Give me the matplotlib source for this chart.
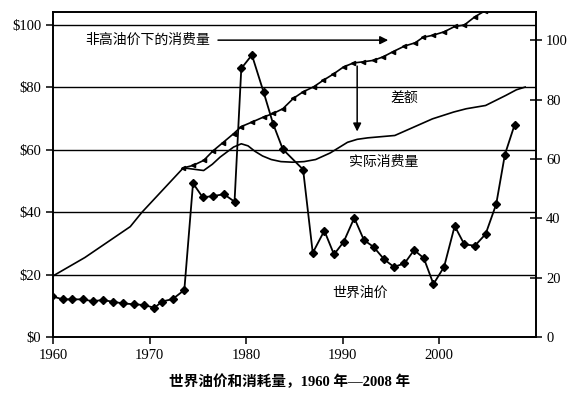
import matplotlib
matplotlib.use("Agg")
import matplotlib.pyplot as plt

plt.rcParams['font.family'] = ['Liberation Serif', 'Noto Sans CJK SC']

# 世界油价（左轴，美元）
price_years = [1959.9, 1961.0, 1962.0, 1963.1, 1964.1, 1965.2, 1966.2, 1967.3, 1968.4,
               1969.4, 1970.5, 1971.3, 1972.4, 1973.6, 1974.5, 1975.5, 1976.6, 1977.7,
               1978.8, 1979.5, 1980.6, 1981.8, 1982.8, 1983.8, 1985.9, 1986.9, 1988.1,
               1989.1, 1990.1, 1991.2, 1992.2, 1993.2, 1994.3, 1995.3, 1996.4, 1997.4,
               1998.4, 1999.4, 2000.5, 2001.6, 2002.6, 2003.7, 2004.8, 2005.9, 2006.8,
               2007.8]
price = [13.1, 12.1, 12.1, 12.1, 11.5, 11.9, 11.3, 10.8, 10.5, 10.3, 9.4, 11.4, 12.2,
         15.1, 49.3, 44.8, 45.2, 45.8, 43.4, 86.1, 90.4, 78.6, 68.3, 60.2, 53.7, 27.0,
         34.1, 26.5, 30.5, 38.2, 31.1, 28.9, 24.9, 22.5, 23.6, 27.9, 25.3, 17.0, 22.5,
         35.6, 29.7, 29.3, 33.0, 42.6, 58.5, 68.0]

# 实际消费量（右轴）
actual_years = [1960.0, 1963.3, 1968.0, 1969.2, 1973.5, 1975.6, 1976.5, 1977.3, 1978.7,
                1979.5, 1980.2, 1980.9, 1981.7, 1982.6, 1983.6, 1984.8, 1986.0, 1987.2,
                1988.7, 1989.8, 1990.5, 1991.5, 1992.6, 1995.4, 1999.3, 2001.5, 2002.8,
                2004.8, 2006.9, 2008.0, 2008.9]
actual = [20.6, 26.8, 37.2, 42.0, 57.0, 56.1, 58.2, 60.6, 64.0, 65.1, 64.4, 62.6,
          61.0, 59.8, 59.1, 58.9, 59.1, 59.8, 62.0, 64.2, 65.6, 66.6, 67.1, 67.9,
          73.5, 75.8, 76.9, 78.0, 81.4, 83.3, 84.2]

# 非高油价下的消费量（右轴）
nohigh_years = [1973.5, 1974.5, 1975.6, 1976.6, 1977.6, 1978.7, 1979.5, 1980.6, 1981.8,
                1982.8, 1983.8, 1984.9, 1985.9, 1987.0, 1988.0, 1989.0, 1990.1, 1991.1,
                1992.1, 1993.2, 1994.2, 1995.2, 1996.4, 1997.5, 1998.3, 1999.4, 2000.5,
                2001.6, 2002.6, 2003.7, 2004.7]
nohigh = [57.0, 57.8, 59.5, 62.8, 65.5, 68.5, 70.9, 72.4, 74.1, 75.3, 76.9, 80.4, 82.6,
          84.3, 86.5, 88.5, 91.0, 92.3, 92.7, 93.2, 94.4, 96.1, 98.0, 99.1, 100.9, 101.7,
          102.8, 104.6, 105.1, 107.9, 109.8]

fig = plt.figure(figsize=(5.7, 3.98), dpi=100)
ax = fig.add_axes([0.093, 0.153, 0.847, 0.817])
ax2 = ax.twinx()

for v in [20, 40, 60, 80, 100]:
    ax.axhline(v, color='black', lw=1.0, zorder=1)

ax.plot(price_years, price, color='black', lw=1.3, marker='D', ms=3.8, zorder=3)
ax2.plot(actual_years, actual, color='black', lw=1.2)
ax2.plot(nohigh_years, nohigh, color='black', lw=1.2, marker='<', ms=3.0)

ax.set_xlim(1960, 2010)
ax.set_ylim(0, 104.2)
ax2.set_ylim(0, 109.5)
ax.set_xticks([1960, 1970, 1980, 1990, 2000])
ax.set_yticks([0, 20, 40, 60, 80, 100])
ax.set_yticklabels(['$0', '$20', '$40', '$60', '$80', '$100'])
ax2.set_yticks([0, 20, 40, 60, 80, 100])

for a in (ax, ax2):
    for s in a.spines.values():
        s.set_linewidth(1.2)
ax.tick_params(axis='both', labelsize=10.5, direction='out', length=5, width=1.1)
ax2.tick_params(axis='y', labelsize=10.5, direction='inout', length=8, width=1.1)

cjk = ['Noto Sans CJK SC']
ax2.annotate('', xy=(1995.0, 100), xytext=(1976.8, 100),
             arrowprops=dict(arrowstyle='-|>', color='black', lw=1.1, mutation_scale=12))
ax2.text(1976.3, 100, '非高油价下的消费量', family=cjk, fontsize=10,
         ha='right', va='center')
ax2.annotate('', xy=(1991.5, 68.3), xytext=(1991.5, 92.2),
             arrowprops=dict(arrowstyle='-|>', color='black', lw=1.1, mutation_scale=12))
ax2.text(1996.4, 80.7, '差额', family=cjk, fontsize=10, ha='center', va='center')
ax2.text(1994.2, 58.8, '实际消费量', family=cjk, fontsize=10, ha='center', va='center')
ax.text(1991.8, 14.1, '世界油价', family=cjk, fontsize=10, ha='center', va='center')

fig.text(0.508, 0.04, '世界油价和消耗量，1960 年—2008 年', family=['Liberation Serif', 'Noto Sans CJK SC'],
         fontsize=10.5, fontweight='bold', ha='center', va='center')

fig.savefig('out.png', dpi=100)
